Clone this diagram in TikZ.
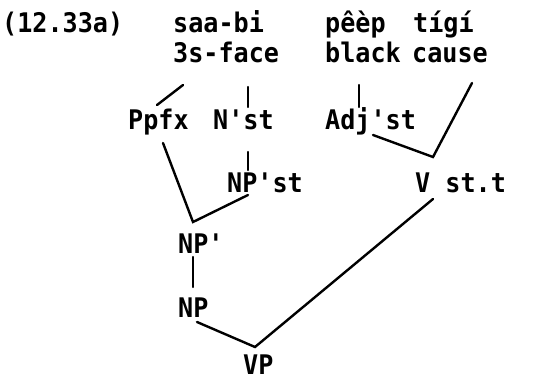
\documentclass[tikz,border=0pt]{standalone}
\usepackage{fontspec}
\newfontfamily\glossfont[FakeStretch=0.93]{DejaVu Sans Mono}
\usetikzlibrary{calc}
\tikzset{
  lbl/.style={anchor=base west,inner sep=0pt,font=\glossfont\bfseries\fontsize{27}{29}\selectfont},
  branch/.style={line width=2.4pt,line cap=round}
}
\begin{document}
\begin{tikzpicture}[x=1pt,y=-1pt]
\useasboundingbox (0,0) rectangle (534,378);
\node[lbl] (ex) at (2,32) {(12.33a)};
\node[lbl] (saa) at (173,32) {saa-bi};
\node[lbl] (face) at (173,62) {3s-face};
\node[lbl] (peep) at (325,32) {pêèp};
\node[lbl] (black) at (325,62) {black};
\node[lbl] (tigi) at (413,32) {tígí};
\node[lbl] (cause) at (412,62) {cause};
\node[lbl] (ppfx) at (128,129) {Ppfx};
\node[lbl] (nst) at (213,129) {N'st};
\node[lbl] (adj) at (325,129) {Adj'st};
\node[lbl] (npst) at (227,192) {NP'st};
\node[lbl] (vst) at (415,192) {V st.t};
\node[lbl] (npbar) at (178,253) {NP'};
\node[lbl] (np) at (178,317) {NP};
\node[lbl] (vp) at (243,374) {VP};
\coordinate (jnp) at ($(npbar.base west)+(15,-31)$);
\coordinate (jv) at ($(vst.base west)+(18,-35)$);
\coordinate (jvp) at ($(vp.base west)+(12,-27)$);
\draw[branch] ($(face.base west)+(10,23)$) -- ($(ppfx.base west)+(29,-24)$);
\draw[branch] ($(face.base west)+(75,25)$) -- ($(nst.base west)+(35,-22)$);
\draw[branch] ($(nst.base west)+(35,23)$) -- ($(npst.base west)+(21,-22)$);
\draw[branch] ($(ppfx.base west)+(35,14)$) -- (jnp) -- ($(npst.base west)+(21,3)$);
\draw[branch] ($(black.base west)+(34,23)$) -- ($(adj.base west)+(34,-22)$);
\draw[branch] ($(adj.base west)+(48,6)$) -- (jv) -- ($(cause.base west)+(60,21)$);
\draw[branch] ($(npbar.base west)+(15,4)$) -- ($(np.base west)+(15,-30)$);
\draw[branch] ($(np.base west)+(19,5)$) -- (jvp) -- ($(vst.base west)+(18,7)$);
\end{tikzpicture}
\end{document}
